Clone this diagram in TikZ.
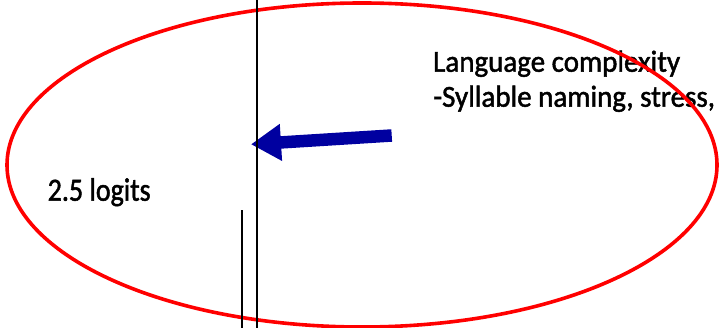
\documentclass[tikz,border=0pt]{standalone}
\usepackage{fontspec}
\setmainfont{Carlito}
\newfontfamily\labelfont{Carlito}[FakeBold=1.6]
\usetikzlibrary{arrows.meta}
\definecolor{ringred}{RGB}{255,0,0}
\definecolor{arrowblue}{RGB}{0,0,160}
\tikzset{
  label text/.style={inner sep=0pt, anchor=base west, font=\labelfont\fontsize{29}{35}\selectfont, yscale=1.05},
  ring/.style={draw=ringred, line width=3.6pt},
  scale line/.style={draw=black, line width=2pt},
  pointer/.style={draw=arrowblue, line width=12.5pt,
    -{Triangle[length=30pt, width=35pt]}},
}
\begin{document}
\begin{tikzpicture}[x=1pt, y=-1pt]
  \useasboundingbox (0,0) rectangle (719,328);

  % labels
  \node[label text] (lang) at (433,71.7) {Language complexity};
  \node[label text] (syll) at (433,106.7) {-Syllable naming, stress,};
  \node[label text, font=\labelfont\fontsize{28}{34}\selectfont, yscale=1.1] (logits) at (47.5,200.7) {2.5 logits};

  % red ring around the region
  \draw[ring] (362,165) ellipse [x radius=355pt, y radius=162pt];

  % pointer towards the scale
  \coordinate (tail) at (391.7,135.5);
  \coordinate (tip) at (251,144.3);
  \draw[pointer] (tail) -- (tip);

  % vertical scale lines
  \coordinate (mainTop) at (256.5,0);
  \coordinate (mainBot) at (256.5,328);
  \coordinate (shortTop) at (242.3,210.5);
  \coordinate (shortBot) at (242.3,328);
  \draw[scale line] (mainTop) -- (mainBot);
  \draw[scale line] (shortTop) -- (shortBot);
\end{tikzpicture}
\end{document}
